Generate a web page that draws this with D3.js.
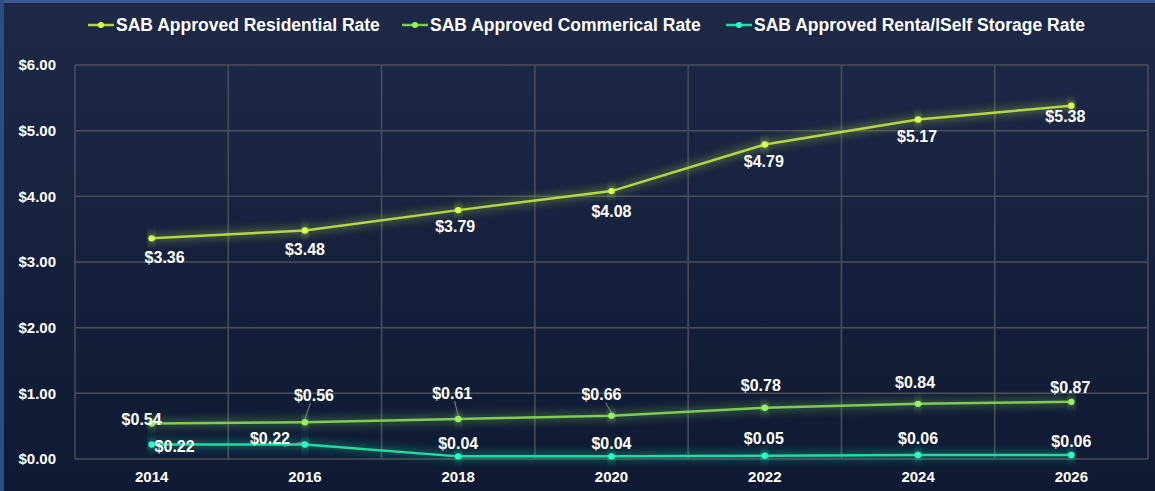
<!DOCTYPE html>
<html>
<head>
<meta charset="utf-8">
<script src="https://cdn.jsdelivr.net/npm/d3@7"></script>
<style>
  body { margin: 0; padding: 0; background: #1b2745; }
  svg { display: block; }
  text { font-family: "Liberation Sans", Arial, sans-serif; font-weight: bold; fill: #ffffff; }
</style>
</head>
<body>
<script>
// data
var years = ["2014", "2016", "2018", "2020", "2022", "2024", "2026"];
var residential = [3.36, 3.48, 3.79, 4.08, 4.79, 5.17, 5.38];
var commercial = [0.54, 0.56, 0.61, 0.66, 0.78, 0.84, 0.87];
var storage = [0.22, 0.22, 0.04, 0.04, 0.05, 0.06, 0.06];
var seriesNames = ["SAB Approved Residential Rate", "SAB Approved Commerical Rate", "SAB Approved Renta/lSelf Storage Rate"];
var yTicks = [0, 1, 2, 3, 4, 5, 6];

var colors = ["#b4d843", "#7fcb52", "#1fdca4"];
// label offsets from the point (dx, dy), picked to match the layout
var labelOffsets = [
  [[13, 19], [0, 19], [-3, 16], [0, 20], [-1, 17], [-1, 17], [-6, 11]],
  [[-10, -4], [9, -27], [-6, -26], [-10, -21], [-4, -22], [-3, -21], [-1, -14]],
  [[23, 2], [-35, -6], [0, -13], [0, -13], [-1, -17], [0, -17], [0, -14]]
];
var leaders = [[], [1, 2, 3], [1]];

var W = 1155, H = 491;
var margin = {top: 65, right: 7, bottom: 32, left: 75};
var width = W - margin.left - margin.right,
    height = H - margin.top - margin.bottom;

var svg = d3.select("body").append("svg")
    .attr("width", W)
    .attr("height", H);

var defs = svg.append("defs");
var grad = defs.append("linearGradient").attr("id", "bg")
    .attr("x1", 0).attr("y1", 0).attr("x2", 0).attr("y2", 1);
grad.append("stop").attr("offset", "0%").attr("stop-color", "#1d2947");
grad.append("stop").attr("offset", "100%").attr("stop-color", "#0e1a33");

var glow = defs.append("filter").attr("id", "glow")
    .attr("x", "-10%").attr("y", "-200%").attr("width", "120%").attr("height", "500%");
glow.append("feGaussianBlur").attr("in", "SourceGraphic").attr("stdDeviation", 5).attr("result", "b");
var fm = glow.append("feMerge");
fm.append("feMergeNode").attr("in", "b");
fm.append("feMergeNode").attr("in", "SourceGraphic");

// background
svg.append("rect").attr("width", W).attr("height", H).attr("fill", "url(#bg)");
svg.append("rect").attr("width", W).attr("height", 3).attr("fill", "#3a5a91");
svg.append("rect").attr("width", 4).attr("height", H).attr("fill", "#2c4d86");

var g = svg.append("g")
    .attr("transform", "translate(" + margin.left + "," + margin.top + ")");

// scales
var x = d3.scaleBand().domain(years).range([0, width]);
var y = d3.scaleLinear().domain([0, 6]).range([height, 0]);
var cx = function (d, i) { return x(years[i]) + x.bandwidth() / 2; };

// grid
g.selectAll(".hgrid").data(yTicks).enter().append("line")
    .attr("x1", 0).attr("x2", width)
    .attr("y1", function (d) { return y(d); })
    .attr("y2", function (d) { return y(d); })
    .attr("stroke", "#4b4f58").attr("stroke-width", 1.5);
g.selectAll(".vgrid").data(d3.range(years.length + 1)).enter().append("line")
    .attr("x1", function (i) { return i * x.step(); })
    .attr("x2", function (i) { return i * x.step(); })
    .attr("y1", 0).attr("y2", height)
    .attr("stroke", "#4b4f58").attr("stroke-width", 1.5);

// axes
var yAxis = g.append("g").call(d3.axisLeft(y).tickValues(yTicks).tickSize(0).tickPadding(19)
    .tickFormat(function (d) { return "$" + d.toFixed(2); }));
yAxis.select(".domain").remove();
yAxis.selectAll("text").style("font-size", "15px");

var xAxis = g.append("g").attr("transform", "translate(0," + height + ")")
    .call(d3.axisBottom(x).tickSize(0).tickPadding(12));
xAxis.select(".domain").remove();
xAxis.selectAll("text").style("font-size", "15px");

// lines
var allSeries = [residential, commercial, storage];
var line = d3.line().x(cx).y(function (d) { return y(d); });

allSeries.forEach(function (data, s) {
  g.append("path").datum(data)
      .attr("d", line)
      .attr("fill", "none")
      .attr("stroke", colors[s])
      .attr("stroke-width", 2.5)
      .attr("filter", "url(#glow)");
  g.selectAll(".pt" + s).data(data).enter().append("circle")
      .attr("cx", cx)
      .attr("cy", function (d) { return y(d); })
      .attr("r", 3.2)
      .attr("fill", d3.color(colors[s]).brighter(0.5))
      .attr("filter", "url(#glow)");
});

// labels
allSeries.forEach(function (data, s) {
  data.forEach(function (d, i) {
    var px = cx(d, i), py = y(d);
    var off = labelOffsets[s][i];
    if (leaders[s].indexOf(i) >= 0) {
      g.append("line")
          .attr("x1", px).attr("y1", py - 3)
          .attr("x2", px + off[0] * 0.6).attr("y2", py + off[1] + 8)
          .attr("stroke", "#a0a4ab").attr("stroke-width", 0.8);
    }
    g.append("text")
        .attr("x", px + off[0])
        .attr("y", py + off[1])
        .attr("dy", "0.35em")
        .attr("text-anchor", "middle")
        .style("font-size", "16px")
        .text("$" + d.toFixed(2));
  });
});

// legend
var legendX = [88, 402, 726];
var legend = svg.append("g").attr("transform", "translate(0,25)");
seriesNames.forEach(function (name, s) {
  var lg = legend.append("g").attr("transform", "translate(" + legendX[s] + ",0)");
  lg.append("line").attr("x1", 0).attr("x2", 26).attr("y1", 0).attr("y2", 0)
      .attr("stroke", colors[s]).attr("stroke-width", 2.5);
  lg.append("circle").attr("cx", 13).attr("cy", 0).attr("r", 3)
      .attr("fill", d3.color(colors[s]).brighter(0.5));
  lg.append("text").attr("x", 28).attr("dy", "0.35em")
      .style("font-size", "17.5px").text(name);
});
</script>
</body>
</html>
